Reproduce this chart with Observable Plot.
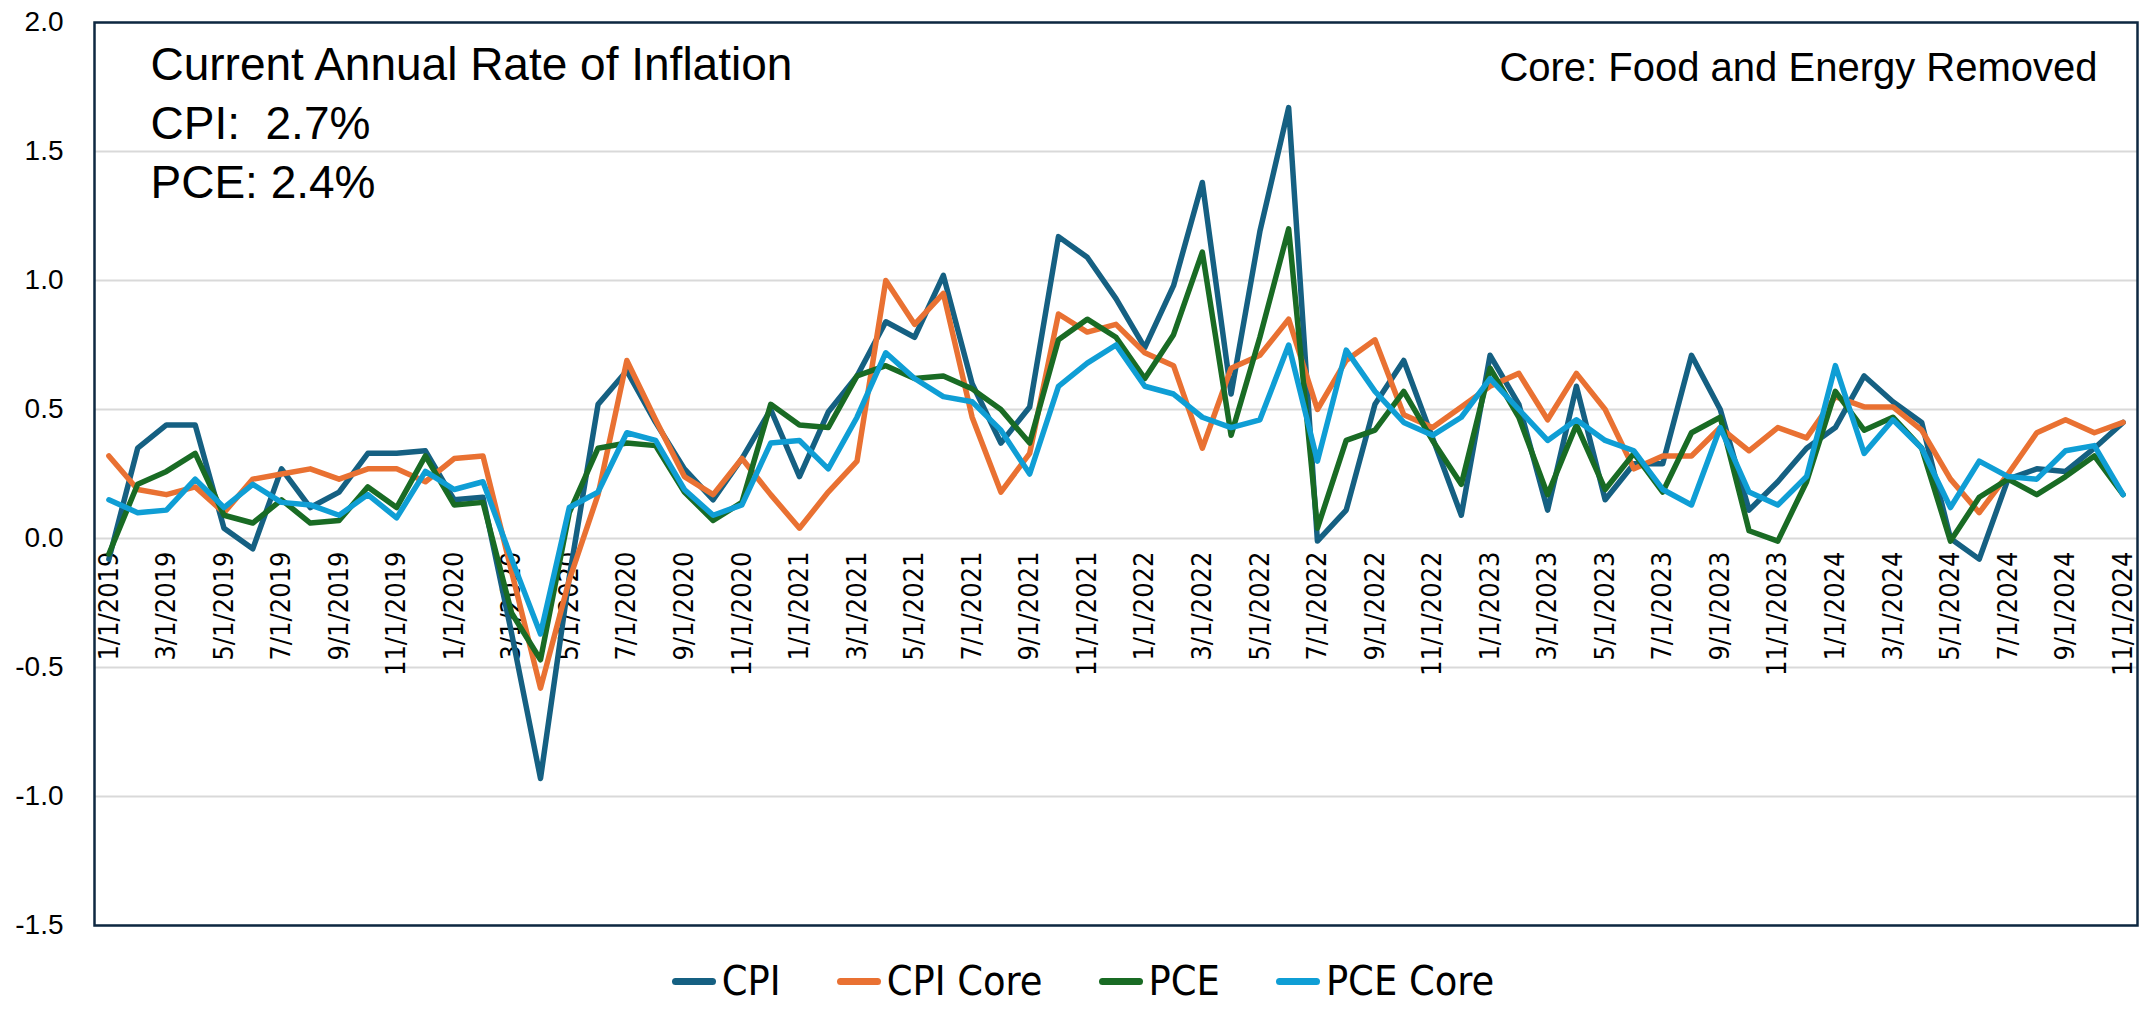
<!DOCTYPE html>
<html>
<head>
<meta charset="utf-8">
<script src="https://cdn.jsdelivr.net/npm/d3@7"></script>
<script src="https://cdn.jsdelivr.net/npm/@observablehq/plot@0.6"></script>
<style>
  html, body { margin: 0; padding: 0; background: #ffffff; }
  #wrap { width: 2156px; height: 1010px; overflow: hidden; background: #fff; }
  #legend { height: 58px; display: flex; justify-content: center; align-items: center;
            font-family: "Liberation Sans Narrow", "Arial Narrow", "DejaVu Sans Condensed", sans-serif;
            font-size: 41px; color: #000; padding-left: 10px; }
  .item { display: flex; align-items: center; margin: 0 28px; }
  .sw { width: 44px; height: 7px; border-radius: 4px; margin-right: 6px; }
</style>
</head>
<body>
<div id="wrap">
  <div id="chart"></div>
  <div id="legend"></div>
</div>
<script>
// ---- data ----
const months = [
  "1/1/2019","2/1/2019","3/1/2019","4/1/2019","5/1/2019","6/1/2019","7/1/2019","8/1/2019","9/1/2019","10/1/2019","11/1/2019","12/1/2019",
  "1/1/2020","2/1/2020","3/1/2020","4/1/2020","5/1/2020","6/1/2020","7/1/2020","8/1/2020","9/1/2020","10/1/2020","11/1/2020","12/1/2020",
  "1/1/2021","2/1/2021","3/1/2021","4/1/2021","5/1/2021","6/1/2021","7/1/2021","8/1/2021","9/1/2021","10/1/2021","11/1/2021","12/1/2021",
  "1/1/2022","2/1/2022","3/1/2022","4/1/2022","5/1/2022","6/1/2022","7/1/2022","8/1/2022","9/1/2022","10/1/2022","11/1/2022","12/1/2022",
  "1/1/2023","2/1/2023","3/1/2023","4/1/2023","5/1/2023","6/1/2023","7/1/2023","8/1/2023","9/1/2023","10/1/2023","11/1/2023","12/1/2023",
  "1/1/2024","2/1/2024","3/1/2024","4/1/2024","5/1/2024","6/1/2024","7/1/2024","8/1/2024","9/1/2024","10/1/2024","11/1/2024"
];
const xTickLabels = [
  "1/1/2019","3/1/2019","5/1/2019","7/1/2019","9/1/2019","11/1/2019",
  "1/1/2020","3/1/2020","5/1/2020","7/1/2020","9/1/2020","11/1/2020",
  "1/1/2021","3/1/2021","5/1/2021","7/1/2021","9/1/2021","11/1/2021",
  "1/1/2022","3/1/2022","5/1/2022","7/1/2022","9/1/2022","11/1/2022",
  "1/1/2023","3/1/2023","5/1/2023","7/1/2023","9/1/2023","11/1/2023",
  "1/1/2024","3/1/2024","5/1/2024","7/1/2024","9/1/2024","11/1/2024"
];
const yTicks = [-1.5, -1.0, -0.5, 0.0, 0.5, 1.0, 1.5, 2.0];

const cpi = [
  -0.08, 0.35, 0.44, 0.44, 0.04, -0.04, 0.27, 0.12, 0.18, 0.33, 0.33, 0.34,
  0.15, 0.16, -0.37, -0.93, -0.15, 0.52, 0.65, 0.45, 0.27, 0.15, 0.31, 0.50,
  0.24, 0.49, 0.63, 0.84, 0.78, 1.02, 0.60, 0.37, 0.51, 1.17, 1.09, 0.93,
  0.74, 0.98, 1.38, 0.56, 1.19, 1.67, -0.01, 0.11, 0.52, 0.69, 0.39, 0.09,
  0.71, 0.52, 0.11, 0.59, 0.15, 0.29, 0.29, 0.71, 0.50, 0.11, 0.22, 0.35,
  0.43, 0.63, 0.53, 0.45, 0.00, -0.08, 0.23, 0.27, 0.26, 0.35, 0.45
];
const cpiCore = [
  0.32, 0.19, 0.17, 0.20, 0.10, 0.23, 0.25, 0.27, 0.23, 0.27, 0.27, 0.22,
  0.31, 0.32, -0.13, -0.58, -0.16, 0.17, 0.69, 0.46, 0.24, 0.17, 0.31, 0.17,
  0.04, 0.18, 0.30, 1.00, 0.83, 0.95, 0.47, 0.18, 0.33, 0.87, 0.80, 0.83,
  0.72, 0.67, 0.35, 0.66, 0.71, 0.85, 0.50, 0.69, 0.77, 0.48, 0.43, 0.51,
  0.59, 0.64, 0.46, 0.64, 0.50, 0.27, 0.32, 0.32, 0.43, 0.34, 0.43, 0.39,
  0.55, 0.51, 0.51, 0.42, 0.23, 0.10, 0.25, 0.41, 0.46, 0.41, 0.45
];
const pce = [
  -0.06, 0.21, 0.26, 0.33, 0.09, 0.06, 0.15, 0.06, 0.07, 0.20, 0.12, 0.32,
  0.13, 0.14, -0.29, -0.47, 0.10, 0.35, 0.37, 0.36, 0.18, 0.07, 0.14, 0.52,
  0.44, 0.43, 0.63, 0.67, 0.62, 0.63, 0.58, 0.50, 0.37, 0.77, 0.85, 0.78,
  0.62, 0.79, 1.11, 0.40, 0.78, 1.20, 0.04, 0.38, 0.42, 0.57, 0.38, 0.21,
  0.66, 0.47, 0.17, 0.44, 0.19, 0.33, 0.18, 0.41, 0.47, 0.03, -0.01, 0.22,
  0.57, 0.42, 0.47, 0.35, -0.01, 0.16, 0.23, 0.17, 0.24, 0.32, 0.17
];
const pceCore = [
  0.15, 0.10, 0.11, 0.23, 0.12, 0.21, 0.14, 0.13, 0.09, 0.17, 0.08, 0.26,
  0.19, 0.22, -0.08, -0.37, 0.12, 0.18, 0.41, 0.38, 0.19, 0.09, 0.13, 0.37,
  0.38, 0.27, 0.47, 0.72, 0.62, 0.55, 0.53, 0.42, 0.25, 0.59, 0.68, 0.75,
  0.59, 0.56, 0.47, 0.43, 0.46, 0.75, 0.30, 0.73, 0.57, 0.45, 0.40, 0.47,
  0.62, 0.50, 0.38, 0.46, 0.38, 0.34, 0.19, 0.13, 0.43, 0.18, 0.13, 0.24,
  0.67, 0.33, 0.46, 0.35, 0.12, 0.30, 0.24, 0.23, 0.34, 0.36, 0.17
];
const seriesNames = ["CPI", "CPI Core", "PCE", "PCE Core"];
const seriesColors = ["#156082", "#E97132", "#196B24", "#0F9ED5"];
const annotationLines = ["Current Annual Rate of Inflation", "CPI:\u00a0 2.7%", "PCE: 2.4%"];
const noteText = "Core: Food and Energy Removed";

// ---- build tidy table ----
const seriesValues = [cpi, cpiCore, pce, pceCore];
const rows = [];
seriesNames.forEach((name, s) => {
  months.forEach((m, i) => rows.push({date: m, value: seriesValues[s][i], series: name}));
});

const narrow = '"Liberation Sans Narrow", "Arial Narrow", "DejaVu Sans Condensed", sans-serif';
const regular = '"Liberation Sans", Arial, sans-serif';

const chart = Plot.plot({
  width: 2156,
  height: 952,
  marginLeft: 94,
  marginRight: 19,
  marginTop: 22,
  marginBottom: 27,
  style: {fontFamily: regular, color: "#000", background: "#fff", overflow: "visible"},
  x: {type: "point", domain: months, padding: 0.5, axis: null},
  y: {domain: [-1.5, 2.0], axis: null},
  color: {domain: seriesNames, range: seriesColors},
  marks: [
    Plot.gridY(yTicks, {stroke: "#d9d9d9", strokeOpacity: 1, strokeWidth: 2}),
    Plot.axisY(yTicks, {tickSize: 0, tickPadding: 31, tickFormat: d => d.toFixed(1),
      fontSize: 28, fontFamily: regular, label: null}),
    Plot.text(xTickLabels, {x: d => d, y: 0, text: d => d, rotate: -90, textAnchor: "end",
      dy: 13, fontSize: 27, fontFamily: narrow, fill: "#000"}),
    Plot.line(rows, {x: "date", y: "value", z: "series", stroke: "series",
      strokeWidth: 5.5, strokeLinejoin: "round", strokeLinecap: "round"}),
    Plot.frame({stroke: "#0e2841", strokeWidth: 2.5}),
    ...annotationLines.map((t, k) => Plot.text([t], {frameAnchor: "top-left", text: d => d,
      textAnchor: "start", lineAnchor: "bottom", dx: 56, dy: 57 + k * 59,
      fontSize: 46, fontFamily: regular, fill: "#000"})),
    Plot.text([noteText], {frameAnchor: "top-right", text: d => d, textAnchor: "end",
      lineAnchor: "bottom", dx: -40, dy: 58, fontSize: 40, fontFamily: regular, fill: "#000"})
  ]
});
document.getElementById("chart").appendChild(chart);

// ---- legend ----
const legend = document.getElementById("legend");
seriesNames.forEach((name, i) => {
  const item = document.createElement("div");
  item.className = "item";
  const sw = document.createElement("div");
  sw.className = "sw";
  sw.style.background = seriesColors[i];
  const label = document.createElement("span");
  label.textContent = name;
  item.appendChild(sw);
  item.appendChild(label);
  legend.appendChild(item);
});
</script>
</body>
</html>
